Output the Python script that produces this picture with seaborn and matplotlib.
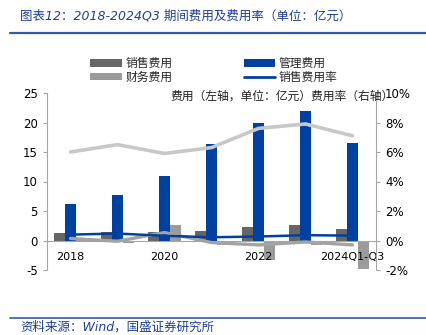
import numpy as np
import pandas as pd
import matplotlib
matplotlib.use('Agg')
import matplotlib.pyplot as plt
import seaborn as sns
from matplotlib.patches import Patch
from matplotlib.lines import Line2D
from matplotlib.ticker import FuncFormatter

# ---------------- data ----------------
years = ['2018', '2019', '2020', '2021', '2022', '2023', '2024Q1-Q3']
tick_labels = ['2018', '', '2020', '', '2022', '', '2024Q1-Q3']
sales_exp = [1.2, 1.5, 1.4, 1.6, 2.3, 2.6, 1.9]        # 销售费用 (亿元)
admin_exp = [6.2, 7.7, 10.9, 16.4, 19.9, 21.9, 16.6]   # 管理费用 (亿元)
fin_exp = [0.3, -0.5, 2.7, -0.8, -3.3, -0.8, -4.9]     # 财务费用 (亿元)
admin_rate = [6.0, 6.5, 5.9, 6.3, 7.6, 7.9, 7.1]       # 管理费用率 (%)
sales_rate = [0.40, 0.47, 0.32, 0.22, 0.27, 0.36, 0.33]  # 销售费用率 (%)
fin_rate = [0.14, -0.05, 0.54, -0.14, -0.30, -0.10, -0.30]  # 财务费用率 (%)

series_names = ['销售费用', '管理费用', '财务费用']
bar_colors = ['#666666', '#0040A0', '#9B9B9B']

df = pd.DataFrame({
    'year': years * 3,
    'series': [series_names[0]] * 7 + [series_names[1]] * 7 + [series_names[2]] * 7,
    'value': sales_exp + admin_exp + fin_exp,
})

# ---------------- style ----------------
sns.set_theme(style='white')
plt.rcParams['font.family'] = ['DejaVu Sans', 'Noto Sans CJK SC']
plt.rcParams['axes.unicode_minus'] = False

fig = plt.figure(figsize=(4.27, 3.35), dpi=100)
ax = fig.add_axes([47 / 427, 1 - 270 / 335, (376 - 47) / 427, (270 - 93) / 335])

sns.barplot(data=df, x='year', y='value', hue='series', hue_order=series_names,
            palette=bar_colors, width=0.72, saturation=1, linewidth=0,
            legend=False, ax=ax, errorbar=None)
ax.set_axisbelow(False)

ax.set_xlim(-0.5, 6.5)
ax.set_ylim(-5, 25)
ax.set_yticks(range(-5, 30, 5))
ax.set_xlabel('')
ax.set_ylabel('')
spine_c = '#A6A6A6'
for s in ['top', 'right']:
    ax.spines[s].set_visible(False)
ax.spines['left'].set_color(spine_c)
ax.spines['bottom'].set_color(spine_c)
ax.spines['bottom'].set_position(('data', 0))
ax.spines['left'].set_linewidth(0.8)
ax.spines['bottom'].set_linewidth(0.8)

ax.set_xticks(range(len(years)))
ax.set_xticklabels(tick_labels)
ax.set_xticks(np.arange(-0.5, 7.0, 1.0), minor=True)
ax.tick_params(axis='x', which='major', length=0, pad=8, labelsize=8, colors='#000000')
ax.tick_params(axis='x', which='minor', length=3, direction='out', color=spine_c, width=0.8)
ax.tick_params(axis='y', which='major', length=3, direction='out', color=spine_c, width=0.8,
               labelsize=8.5, labelcolor='#000000', left=True)

# ---------------- lines (right axis) ----------------
ax2 = ax.twinx()
ax2.set_position(ax.get_position())
pos = np.arange(len(years))
sns.lineplot(x=pos, y=admin_rate, ax=ax2, color='#C8C8C8', linewidth=2.6)
sns.lineplot(x=pos, y=fin_rate, ax=ax2, color='#A3A3A3', linewidth=2.4)
sns.lineplot(x=pos, y=sales_rate, ax=ax2, color='#0040A0', linewidth=1.8)
ax2.set_ylim(-2, 10)
ax2.set_yticks(range(-2, 12, 2))
ax2.yaxis.set_major_formatter(FuncFormatter(lambda v, p: f'{v:.0f}%'))
for s in ['top', 'left', 'bottom']:
    ax2.spines[s].set_visible(False)
ax2.spines['right'].set_color(spine_c)
ax2.spines['right'].set_linewidth(0.8)
ax2.tick_params(axis='y', length=3, direction='out', color=spine_c, width=0.8,
                labelsize=8.5, labelcolor='#000000', right=True)
ax2.set_xlim(-0.5, 6.5)

# ---------------- legend ----------------
handles = [
    Patch(facecolor=bar_colors[0], edgecolor='none', label='销售费用'),
    Patch(facecolor=bar_colors[2], edgecolor='none', label='财务费用'),
    Patch(facecolor=bar_colors[1], edgecolor='none', label='管理费用'),
    Line2D([0], [0], color='#0040A0', linewidth=2.0, label='销售费用率'),
]
leg = fig.legend(handles=handles, loc='upper left', bbox_to_anchor=(82 / 427, 1 - 49 / 335),
                 ncol=2, frameon=False, handlelength=2.7, handleheight=0.6,
                 handletextpad=0.3, columnspacing=6.0, labelspacing=0.05,
                 borderpad=0.2, prop={'family': ['Noto Sans CJK SC'], 'size': 8.5})

# ---------------- texts ----------------
fig.text(170 / 427, 1 - 96 / 335, '费用（左轴，单位：亿元）费用率（右轴）', fontsize=8.5,
         color='#222222', va='center', ha='left', family=['Noto Sans CJK SC', 'DejaVu Sans'])

title_c = '#1F3F98'
fig.text(20 / 427, 1 - 16 / 335, '图表12：2018-2024Q3 期间费用及费用率（单位：亿元）',
         fontsize=9, style='italic', color=title_c, va='center', ha='left',
         family=['DejaVu Sans', 'Noto Sans CJK SC'])
fig.add_artist(Line2D([10 / 427, 1.0], [1 - 33 / 335, 1 - 33 / 335], color='#2F5AA8', linewidth=1.6))
fig.add_artist(Line2D([10 / 427, 1.0], [1 - 318 / 335, 1 - 318 / 335], color='#2F5AA8', linewidth=1.2))
fig.text(20 / 427, 1 - 327 / 335, '资料来源：Wind，国盛证券研究所', fontsize=9, style='italic',
         color=title_c, va='center', ha='left', family=['DejaVu Sans', 'Noto Sans CJK SC'])

fig.savefig('out.png', dpi=100)
